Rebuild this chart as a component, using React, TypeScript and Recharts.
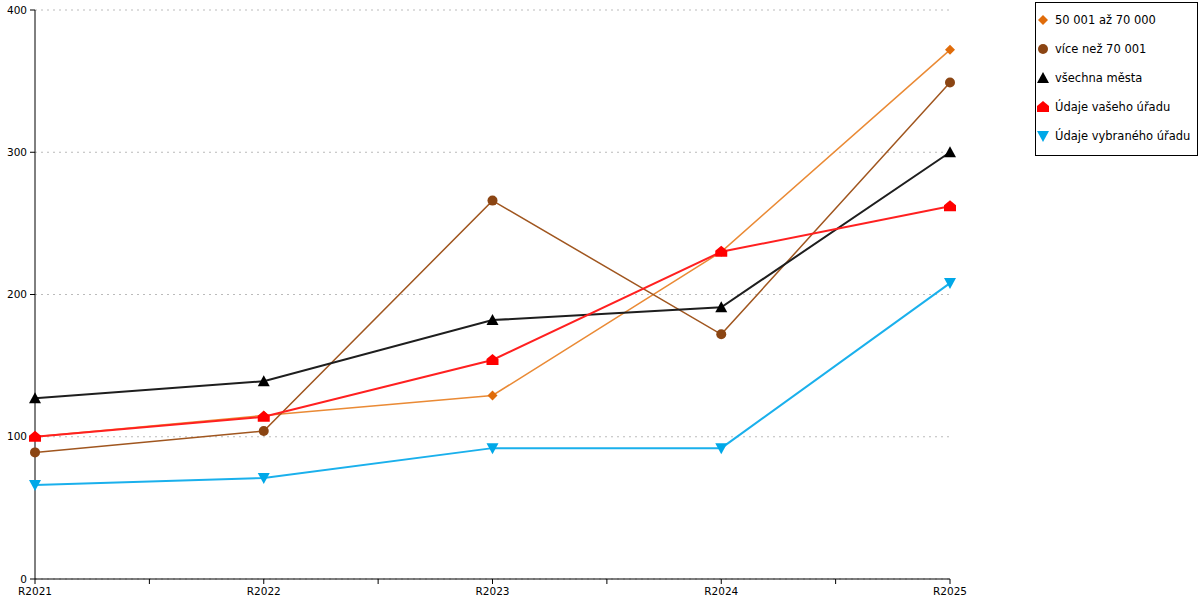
import { FC } from "react";
import { LineChart, Line, XAxis, YAxis, CartesianGrid } from "recharts";

const categories = ["R2021", "R2022", "R2023", "R2024", "R2025"];
const band50to70 = [100, 115, 129, 230, 372];
const bandOver70 = [89, 104, 266, 172, 349];
const allCities = [127, 139, 182, 191, 300];
const yourOffice = [100, 114, 154, 230, 262];
const selectedOffice = [66, 71, 92, 92, 208];
const yTicks = [0, 100, 200, 300, 400];

const chartData = categories.map((cat, i) => ({
  idx: i,
  cat,
  a: band50to70[i],
  b: bandOver70[i],
  c: allCities[i],
  d: yourOffice[i],
  e: selectedOffice[i],
}));

// category ticks plus minor ticks in between
const xTicks = categories.flatMap((_, i) =>
  i < categories.length - 1 ? [i, i + 0.5] : [i]
);

type Shape = "diamond" | "circle" | "up" | "house" | "down";

const markerPath = (shape: Shape, cx: number, cy: number) => {
  switch (shape) {
    case "diamond":
      return `M${cx},${cy - 5}L${cx + 5},${cy}L${cx},${cy + 5}L${cx - 5},${cy}Z`;
    case "up":
      return `M${cx},${cy - 6}L${cx + 6},${cy + 5}L${cx - 6},${cy + 5}Z`;
    case "house":
      return `M${cx},${cy - 6}L${cx + 6},${cy - 1}L${cx + 6},${cy + 5}L${cx - 6},${cy + 5}L${cx - 6},${cy - 1}Z`;
    case "down":
      return `M${cx - 6},${cy - 5}L${cx + 6},${cy - 5}L${cx},${cy + 6}Z`;
    default:
      return "";
  }
};

const Marker: FC<{ shape: Shape; cx: number; cy: number; fill: string }> = ({
  shape,
  cx,
  cy,
  fill,
}) =>
  shape === "circle" ? (
    <circle cx={cx} cy={cy} r={5} fill={fill} />
  ) : (
    <path d={markerPath(shape, cx, cy)} fill={fill} />
  );

const series = [
  { key: "a", name: "50 001 až 70 000", line: "#ea8a35", fill: "#e06c0a", shape: "diamond" as Shape, width: 1.5 },
  { key: "b", name: "více než 70 001", line: "#a0561f", fill: "#8b4513", shape: "circle" as Shape, width: 1.5 },
  { key: "c", name: "všechna města", line: "#1e1e1e", fill: "#000000", shape: "up" as Shape, width: 2 },
  { key: "d", name: "Údaje vašeho úřadu", line: "#ff2020", fill: "#ff0000", shape: "house" as Shape, width: 2 },
  { key: "e", name: "Údaje vybraného úřadu", line: "#1ab0ec", fill: "#00a8e8", shape: "down" as Shape, width: 2 },
];

const LegendBox: FC = () => (
  <div
    style={{
      position: "absolute",
      left: 1035,
      top: 2,
      border: "1px solid #000",
      background: "#fff",
      width: 161,
      height: 150,
      paddingTop: 2,
    }}
  >
    {series.map((s) => (
      <div
        key={s.key}
        style={{
          height: 29,
          display: "flex",
          alignItems: "center",
          fontSize: 11.5,
          color: "#000",
        }}
      >
        <svg width={19} height={14} style={{ flexShrink: 0 }}>
          <Marker shape={s.shape} cx={7} cy={7} fill={s.fill} />
        </svg>
        <span style={{ whiteSpace: "nowrap" }}>{s.name}</span>
      </div>
    ))}
  </div>
);

const App: FC = () => (
  <div
    style={{
      position: "absolute",
      left: 0,
      top: 0,
      width: 1200,
      height: 600,
      fontFamily: "'DejaVu Sans', sans-serif",
    }}
  >
    <LineChart
      width={1200}
      height={600}
      data={chartData}
      margin={{ top: 10, right: 250, left: 0, bottom: 0 }}
    >
      <CartesianGrid vertical={false} stroke="#bbbbbb" strokeDasharray="2 4" />
      <XAxis
        dataKey="idx"
        type="number"
        domain={[0, categories.length - 1]}
        ticks={xTicks}
        tickFormatter={(v: number) => (Number.isInteger(v) ? categories[v] : "")}
        height={21}
        tickSize={5}
        tickMargin={4}
        interval={0}
        stroke="#000"
        tick={{ fill: "#000", fontSize: 10.5 }}
      />
      <YAxis
        domain={[0, 400]}
        ticks={yTicks}
        width={35}
        tickSize={5}
        tickMargin={3}
        stroke="#000"
        tick={{ fill: "#000", fontSize: 10.5 }}
      />
      <YAxis
        yAxisId="right"
        orientation="right"
        domain={[0, 400]}
        width={0}
        tick={false}
        tickLine={false}
        stroke="#000"
      />
      {series.map((s) => (
        <Line
          key={s.key}
          dataKey={s.key}
          name={s.name}
          type="linear"
          stroke={s.line}
          strokeWidth={s.width}
          isAnimationActive={false}
          dot={(p: any) => (
            <Marker key={`${s.key}-${p.index}`} shape={s.shape} cx={p.cx} cy={p.cy} fill={s.fill} />
          )}
          activeDot={false}
        />
      ))}
    </LineChart>
    <LegendBox />
  </div>
);

export default App;
